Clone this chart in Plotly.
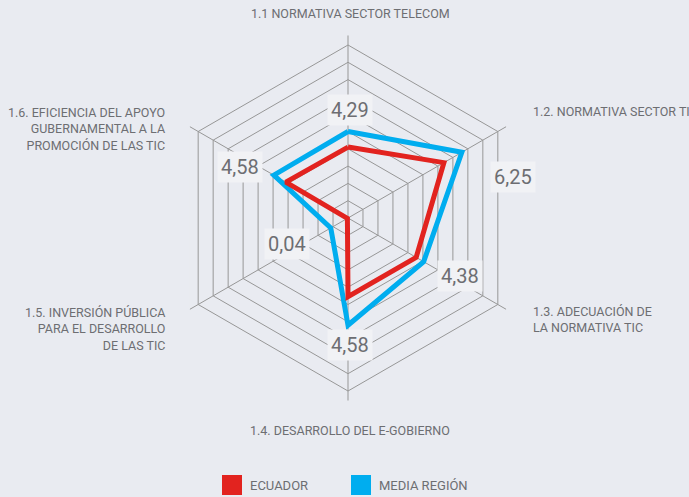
import plotly.graph_objects as go

categories = [
    "1.1 NORMATIVA SECTOR TELECOM",
    "1.2. NORMATIVA SECTOR TIC",
    "1.3. ADECUACIÓN DE<br>LA NORMATIVA TIC",
    "1.4. DESARROLLO DEL E-GOBIERNO",
    "1.5. INVERSIÓN PÚBLICA<br>PARA EL DESARROLLO<br>DE LAS TIC",
    "1.6. EFICIENCIA DEL APOYO<br>GUBERNAMENTAL A LA<br>PROMOCIÓN DE LAS TIC",
]
series_names = ["ECUADOR", "MEDIA REGIÓN"]
ecuador = [4.1, 6.4, 4.55, 4.55, 0.04, 4.15]
media_region = [5.0, 7.6, 5.05, 6.2, 1.15, 4.95]
value_labels = ["4,29", "6,25", "4,38", "4,58", "0,04", "4,58"]
grid_ticks = [1, 2, 3, 4, 5, 6, 7, 8, 9, 10]

W, H = 689, 497
BG = "#e9ebf1"
BOX = "#f1f2f5"
TXT = "#6d6e72"
RED = "#e2231f"
BLUE = "#00adef"
FONT = "Roboto, Liberation Sans, sans-serif"

cx, cy, R10 = 348, 218, 173
rmax = 10.55
Rp = R10 * rmax / 10


def px(x):
    return x / W


def py(y):
    return 1 - y / H


theta = [f"c{i}" for i in range(len(categories))]

fig = go.Figure()
fig.add_trace(go.Scatterpolar(
    r=media_region + [media_region[0]], theta=theta + [theta[0]],
    mode="lines", line=dict(color=BLUE, width=5), name=series_names[1],
    showlegend=False, hoverinfo="skip"))
fig.add_trace(go.Scatterpolar(
    r=ecuador + [ecuador[0]], theta=theta + [theta[0]],
    mode="lines", line=dict(color=RED, width=5), name=series_names[0],
    showlegend=False, hoverinfo="skip"))

annotations = []
# value labels (boxes)
val_pos = [(350, 110), (513, 177), (460, 276), (350, 345), (287, 244), (240, 167)]
for (x, y), t in zip(val_pos, value_labels):
    annotations.append(dict(
        x=px(x), y=py(y), xref="paper", yref="paper", text=t, showarrow=False,
        xanchor="center", yanchor="middle", bgcolor=BOX, borderpad=3,
        font=dict(family=FONT, size=20, color=TXT)))

# category labels
cat_specs = [
    (350, 14, "center", "middle", "center"),
    (531, 111, "left", "middle", "left"),
    (531, 319, "left", "middle", "left"),
    (350, 430, "center", "middle", "center"),
    (167, 329, "right", "middle", "right"),
    (167, 129, "right", "middle", "right"),
]
for (x, y, xa, ya, al), t in zip(cat_specs, categories):
    annotations.append(dict(
        x=px(x), y=py(y), xref="paper", yref="paper", text=t, showarrow=False,
        xanchor=xa, yanchor=ya, align=al,
        font=dict(family=FONT, size=12.5, color=TXT)))

# legend
shapes = []
leg = [(222, RED, series_names[0]), (351, BLUE, series_names[1])]
for x, col, name in leg:
    shapes.append(dict(type="rect", xref="paper", yref="paper",
                       x0=px(x), x1=px(x + 20), y0=py(495), y1=py(475),
                       fillcolor=col, line=dict(width=0)))
    annotations.append(dict(
        x=px(x + 26), y=py(485), xref="paper", yref="paper", text=name,
        showarrow=False, xanchor="left", yanchor="middle",
        font=dict(family=FONT, size=13, color=TXT)))

fig.update_layout(
    width=W, height=H, paper_bgcolor=BG, plot_bgcolor=BG,
    margin=dict(l=0, r=0, t=0, b=0),
    showlegend=False,
    polar=dict(
        domain=dict(x=[px(cx - Rp), px(cx + Rp)], y=[py(cy + Rp), py(cy - Rp)]),
        bgcolor=BG, gridshape="linear",
        radialaxis=dict(range=[0, rmax], tickvals=grid_ticks, showticklabels=False,
                        ticks="", showline=False, gridcolor="#979797", gridwidth=1.4),
        angularaxis=dict(rotation=90, direction="clockwise", categoryorder="array",
                         categoryarray=theta, showticklabels=False, ticks="",
                         showline=False, gridcolor="#979797", gridwidth=1.4),
    ),
    annotations=annotations, shapes=shapes,
)

fig.write_html("out.html", config={"displayModeBar": False},
               post_script="document.body.style.margin='0';document.body.style.overflow='hidden';")
